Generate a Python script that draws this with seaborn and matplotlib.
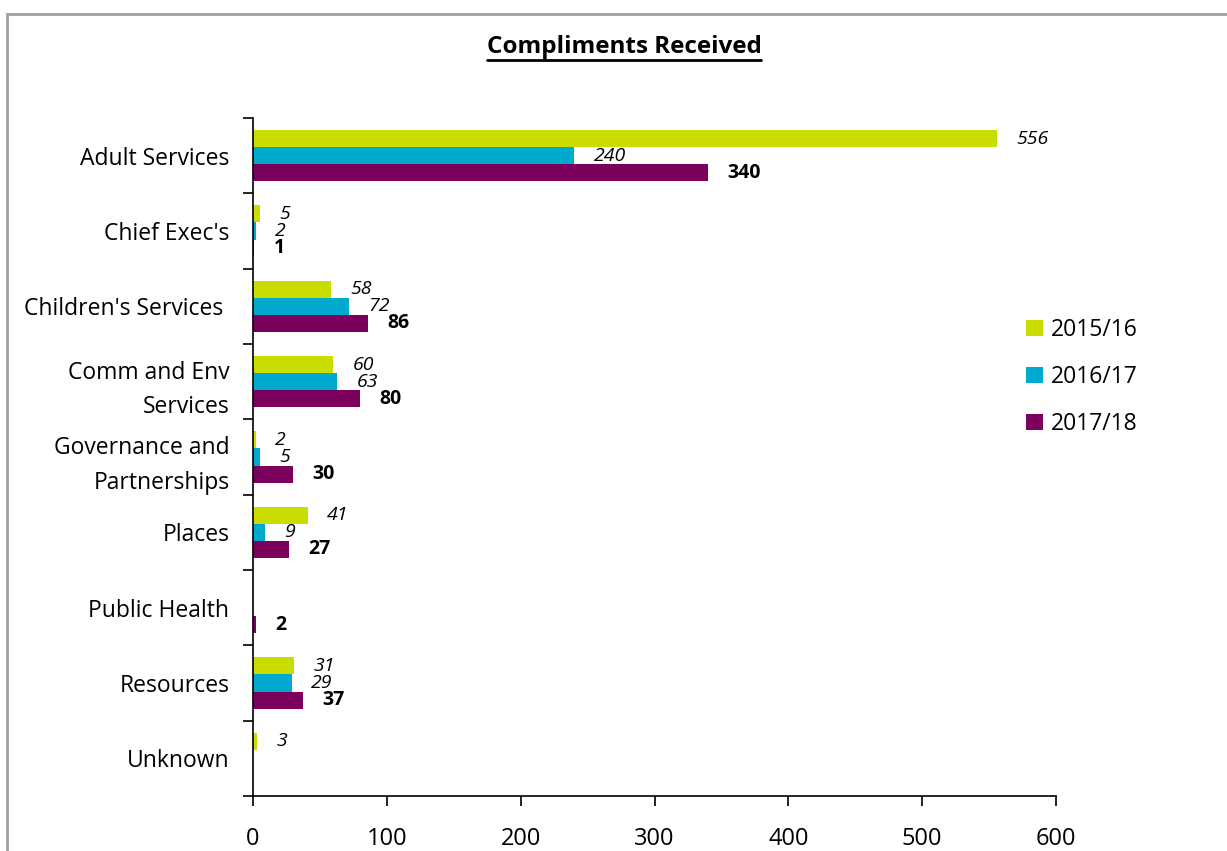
import numpy as np
import pandas as pd
import matplotlib
matplotlib.use("Agg")
import matplotlib.pyplot as plt
from matplotlib.patches import Rectangle
from matplotlib.lines import Line2D
import seaborn as sns

categories = ["Adult Services", "Chief Exec's", "Children's Services ",
              "Comm and Env\nServices", "Governance and\nPartnerships", "Places",
              "Public Health", "Resources", "Unknown"]
years = ["2015/16", "2016/17", "2017/18"]
v_2015_16 = [556, 5, 58, 60, 2, 41, np.nan, 31, 3]
v_2016_17 = [240, 2, 72, 63, 5, 9, np.nan, 29, np.nan]
v_2017_18 = [340, 1, 86, 80, 30, 27, 2, 37, np.nan]
x_ticks = [0, 100, 200, 300, 400, 500, 600]
colors = ["#C9DD00", "#00AACE", "#7A005C"]

rows = []
for yr, vals in zip(years, [v_2015_16, v_2016_17, v_2017_18]):
    for c, v in zip(categories, vals):
        if not np.isnan(v):
            rows.append({"category": c, "year": yr, "value": v})
df = pd.DataFrame(rows)

sns.set_style("white")
FONT = ["Open Sans", "DejaVu Sans"]
plt.rcParams["font.family"] = FONT
plt.rcParams["text.color"] = "black"
plt.rcParams["xtick.color"] = "black"
plt.rcParams["ytick.color"] = "black"

fig = plt.figure(figsize=(12.27, 8.51), dpi=100)
ax = fig.add_axes([253/1227, 1-796/851, (1056-253)/1227, (796-118)/851])

sns.barplot(data=df, x="value", y="category", hue="year", order=categories,
            hue_order=years, palette=colors, orient="h", width=0.68,
            saturation=1, ax=ax, legend=True, errorbar=None, linewidth=0)

styles = [dict(fontstyle="italic", fontweight="normal"),
          dict(fontstyle="italic", fontweight="normal"),
          dict(fontstyle="normal", fontweight="bold")]
for cont, st in zip(ax.containers, styles):
    labs = [f"{v:.0f}" for v in cont.datavalues]
    ax.bar_label(cont, labels=labs, padding=14, fontsize=14, color="black", **st)

ax.set_xlim(0, 600)
ax.set_ylim(8.5, -0.5)
ax.set_xticks(x_ticks)
ax.set_xticklabels([str(t) for t in x_ticks], fontsize=17)
ax.tick_params(axis="x", length=7, width=1.2, pad=15, direction="out", bottom=True)
ax.set_yticks(range(len(categories)))
ax.set_yticklabels(categories, fontsize=16.5, linespacing=1.6)
ax.tick_params(axis="y", length=0, pad=17)
ax.set_yticks(np.arange(-0.5, len(categories), 1), minor=True)
ax.tick_params(axis="y", which="minor", length=7, width=1.2, direction="out", left=True)
ax.set_xlabel("")
ax.set_ylabel("")
for s in ["top", "right"]:
    ax.spines[s].set_visible(False)
for s in ["left", "bottom"]:
    ax.spines[s].set_color("black")
    ax.spines[s].set_linewidth(1.2)
ax.grid(False)

leg = ax.legend(loc="center left", bbox_to_anchor=(1005/1227, 1-377/851),
                bbox_transform=fig.transFigure, frameon=False, fontsize=16.5,
                handlelength=0.75, handleheight=0.75, handletextpad=0.35,
                labelspacing=1.0)

t = fig.text(624/1227, 1-47/851, "Compliments Received", ha="center", va="center",
             fontsize=17.5, fontweight="bold")
fig.canvas.draw()
bb = t.get_window_extent().transformed(fig.transFigure.inverted())
fig.add_artist(Line2D([bb.x0, bb.x1], [bb.y0 - 0.001, bb.y0 - 0.001],
                      transform=fig.transFigure, color="black", lw=2))

fig.add_artist(Rectangle((7/1227, -0.01), 1.1, 1 - 14/851 + 0.01,
                         transform=fig.transFigure, fill=False,
                         edgecolor="#A0A0A0", lw=2))

fig.savefig("out.png", dpi=100)
